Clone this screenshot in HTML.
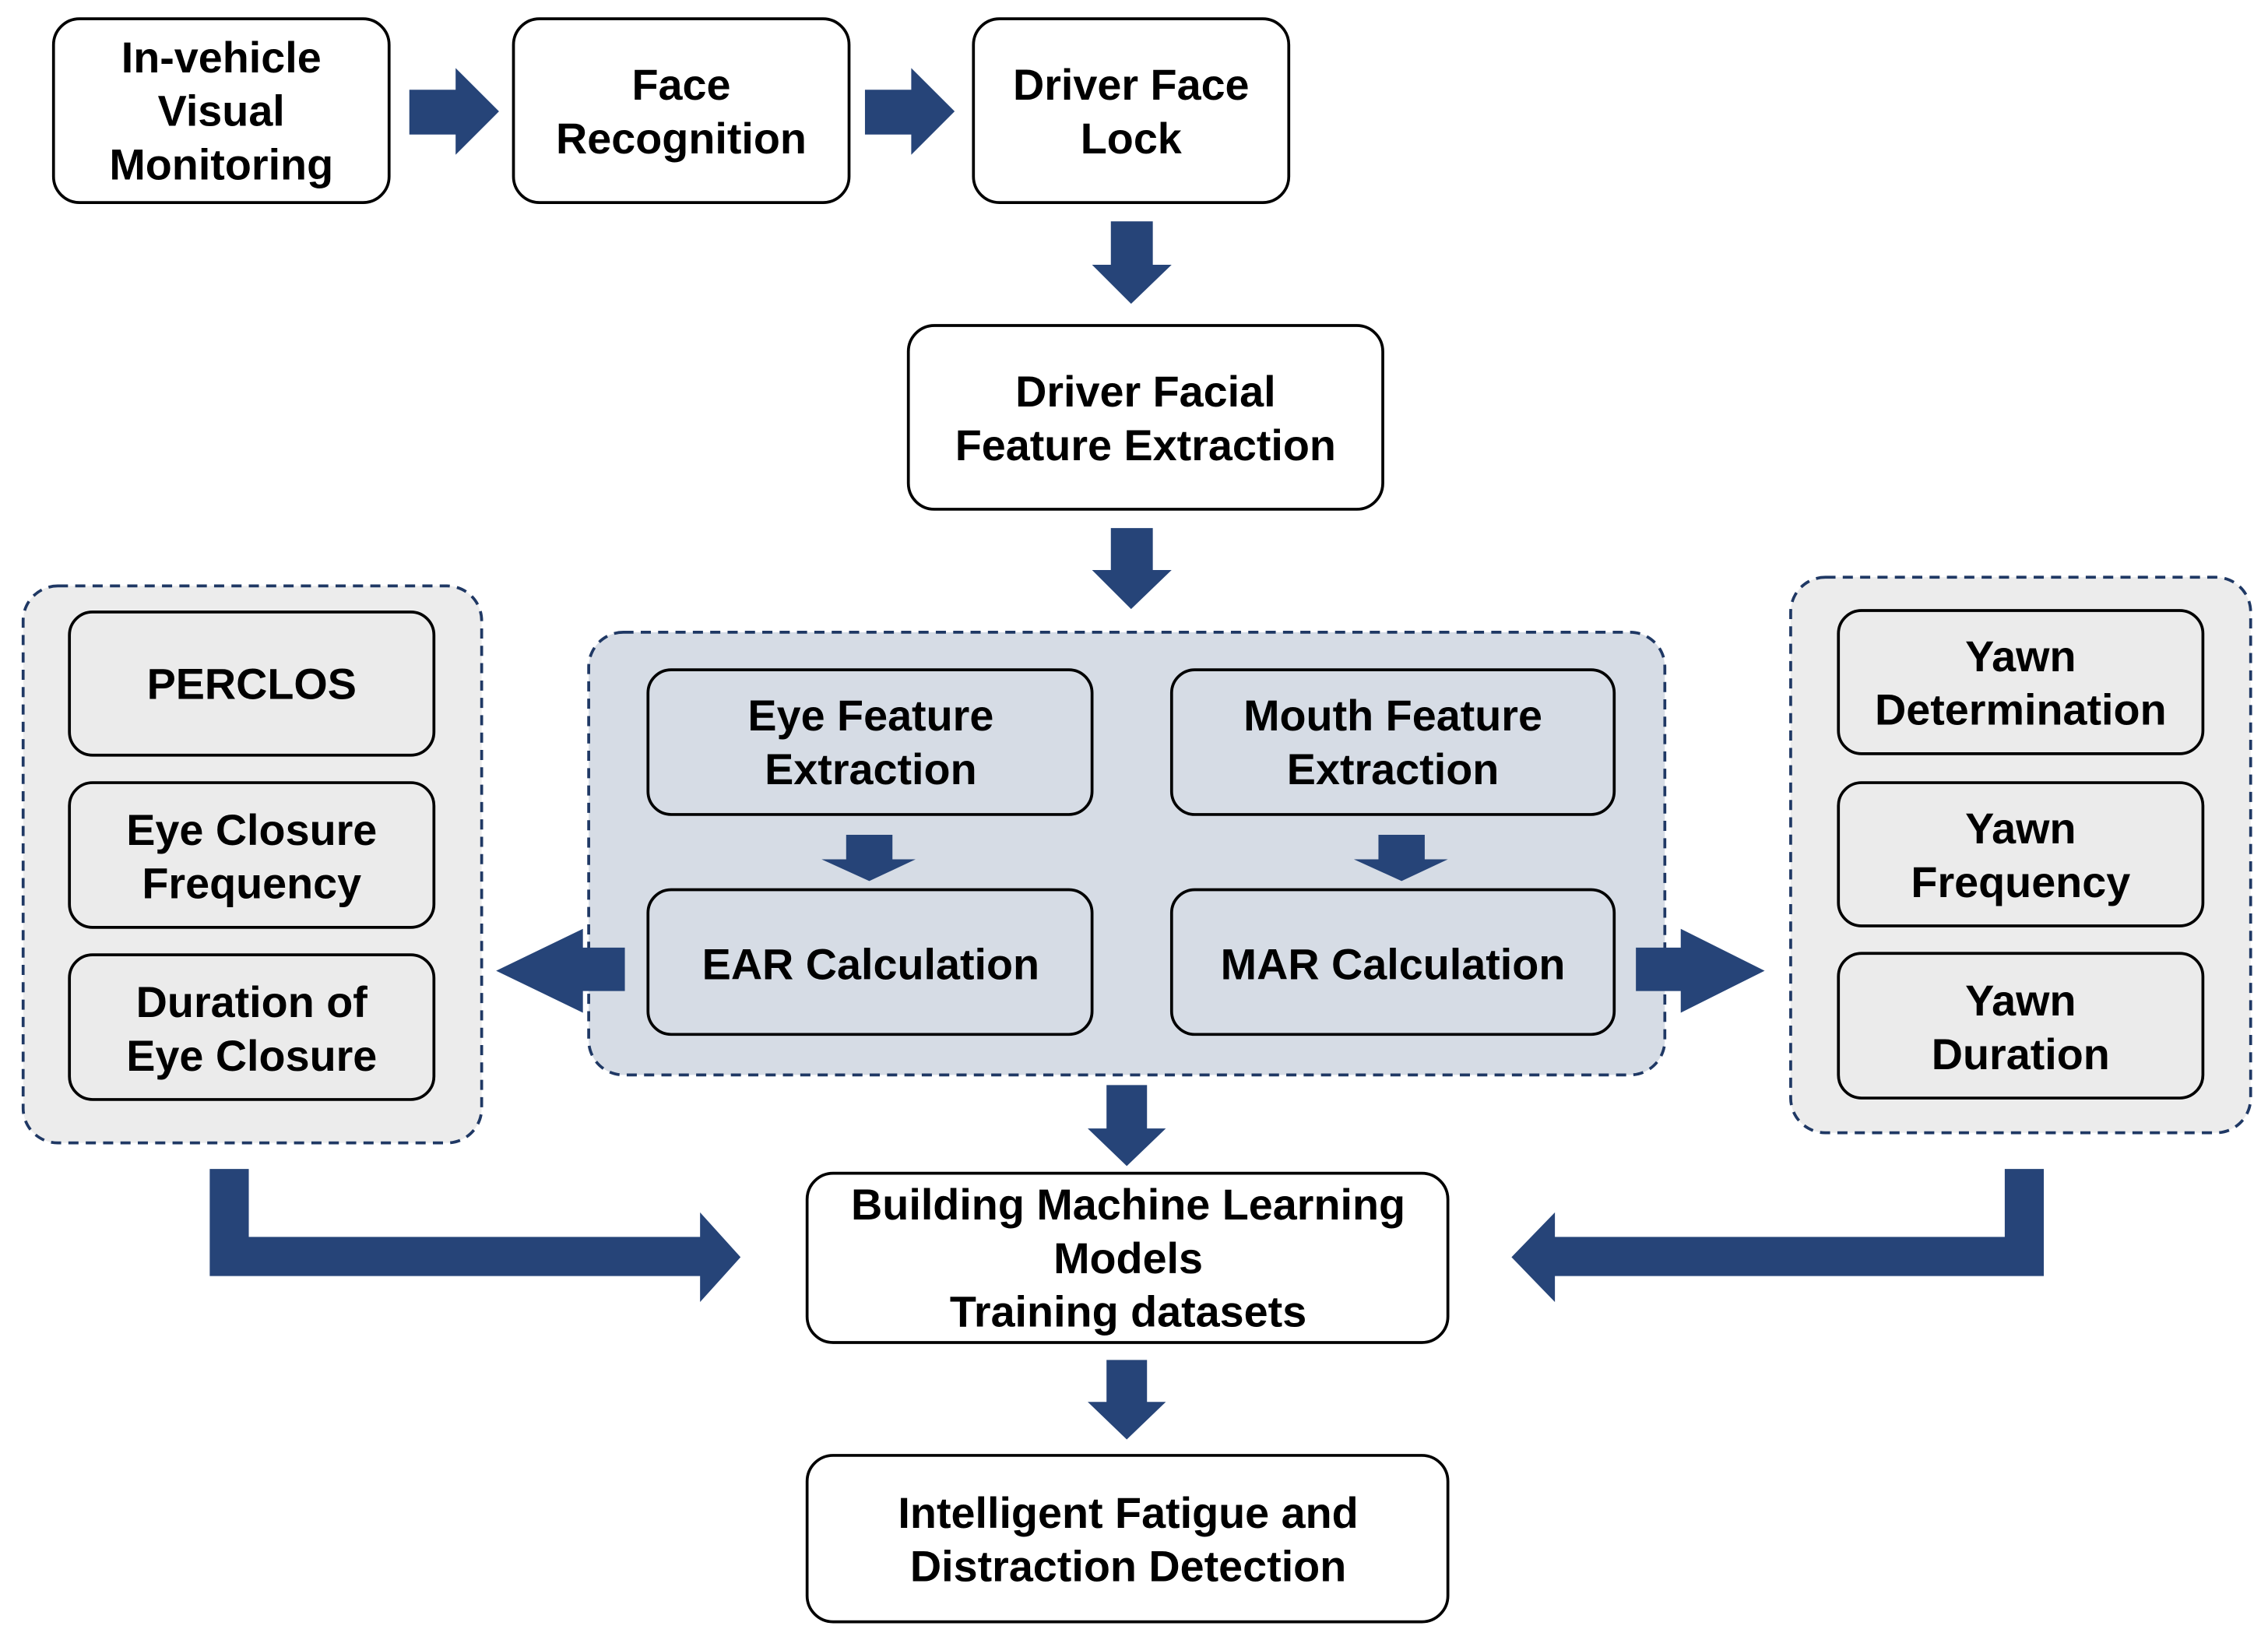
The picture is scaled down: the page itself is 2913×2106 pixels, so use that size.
<!DOCTYPE html>
<html><head><meta charset="utf-8"><style>
html,body{margin:0;padding:0;background:#fff;width:2913px;height:2106px;overflow:hidden}
svg{display:block}
text{font-family:"Liberation Sans",Arial,sans-serif;font-weight:bold;font-size:30px;fill:#000;text-anchor:middle}
.w{fill:#fff;stroke:#000;stroke-width:2}
.g{fill:#ebebeb;stroke:#000;stroke-width:2}
.c{fill:#d6dce5;stroke:#000;stroke-width:2}
.d{stroke:#1f3864;stroke-width:2;stroke-dasharray:7,5}
.a{fill:#264478}
</style></head><body>
<svg width="2913" height="2106" viewBox="0 0 1568 1133.6" xmlns="http://www.w3.org/2000/svg">
<rect x="16" y="405" width="317" height="385" rx="24" fill="#ececec" class="d"/>
<rect x="407" y="437" width="744" height="306" rx="24" fill="#d6dce5" class="d"/>
<rect x="1238" y="399" width="318" height="384" rx="24" fill="#ececec" class="d"/>

<rect class="w" x="37" y="13" width="232" height="127" rx="18"/>
<text x="153" y="50">In-vehicle</text><text x="153" y="87">Visual</text><text x="153" y="124">Monitoring</text>
<rect class="w" x="355" y="13" width="232" height="127" rx="18"/>
<text x="471" y="69">Face</text><text x="471" y="106">Recognition</text>
<rect class="w" x="673" y="13" width="218" height="127" rx="18"/>
<text x="782" y="69">Driver Face</text><text x="782" y="106">Lock</text>
<rect class="w" x="628" y="225" width="328" height="127" rx="18"/>
<text x="792" y="281">Driver Facial</text><text x="792" y="318">Feature Extraction</text>

<rect class="g" x="48" y="423" width="252" height="99" rx="16"/>
<text x="174" y="483">PERCLOS</text>
<rect class="g" x="48" y="541" width="252" height="100" rx="16"/>
<text x="174" y="584">Eye Closure</text><text x="174" y="621">Frequency</text>
<rect class="g" x="48" y="660" width="252" height="100" rx="16"/>
<text x="174" y="703">Duration of</text><text x="174" y="740">Eye Closure</text>

<rect class="c" x="448" y="463" width="307" height="100" rx="16"/>
<text x="602" y="505">Eye Feature</text><text x="602" y="542">Extraction</text>
<rect class="c" x="810" y="463" width="306" height="100" rx="16"/>
<text x="963" y="505">Mouth Feature</text><text x="963" y="542">Extraction</text>
<rect class="c" x="448" y="615" width="307" height="100" rx="16"/>
<text x="602" y="677">EAR Calculation</text>
<rect class="c" x="810" y="615" width="306" height="100" rx="16"/>
<text x="963" y="677">MAR Calculation</text>

<rect class="g" x="1271" y="422" width="252" height="99" rx="16"/>
<text x="1397" y="464">Yawn</text><text x="1397" y="501">Determination</text>
<rect class="g" x="1271" y="541" width="252" height="99" rx="16"/>
<text x="1397" y="583">Yawn</text><text x="1397" y="620">Frequency</text>
<rect class="g" x="1271" y="659" width="252" height="100" rx="16"/>
<text x="1397" y="702">Yawn</text><text x="1397" y="739">Duration</text>

<rect class="w" x="558" y="811" width="443" height="117" rx="18"/>
<text x="780" y="843">Building Machine Learning</text><text x="780" y="880">Models</text><text x="780" y="917">Training datasets</text>
<rect class="w" x="558" y="1006" width="443" height="115" rx="18"/>
<text x="780" y="1056">Intelligent Fatigue and</text><text x="780" y="1093">Distraction Detection</text>

<polygon class="a" points="283,62 315,62 315,47 345,77 315,107 315,93 283,93"/>
<polygon class="a" points="598,62 630,62 630,47 660,77 630,107 630,93 598,93"/>
<polygon class="a" points="768,153 797,153 797,183 810,183 782,210 755,183 768,183"/>
<polygon class="a" points="768,365 797,365 797,394 810,394 782,421 755,394 768,394"/>
<polygon class="a" points="585,577 617,577 617,594 633,594 601,609 568,594 585,594"/>
<polygon class="a" points="953,577 985,577 985,594 1001,594 969,609 936,594 953,594"/>
<polygon class="a" points="432,655 403,655 403,642 343,671 403,700 403,685 432,685"/>
<polygon class="a" points="1131,655 1162,655 1162,642 1220,671 1162,700 1162,685 1131,685"/>
<polygon class="a" points="765,750 793,750 793,780 806,780 779,806 752,780 765,780"/>
<polygon class="a" points="765,940 793,940 793,969 806,969 779,995 752,969 765,969"/>
<polygon class="a" points="145,808 172,808 172,855 484,855 484,838 512,869 484,900 484,882 145,882"/>
<polygon class="a" points="1413,808 1386,808 1386,855 1075,855 1075,838 1045,869 1075,900 1075,882 1413,882"/>
</svg>
</body></html>
